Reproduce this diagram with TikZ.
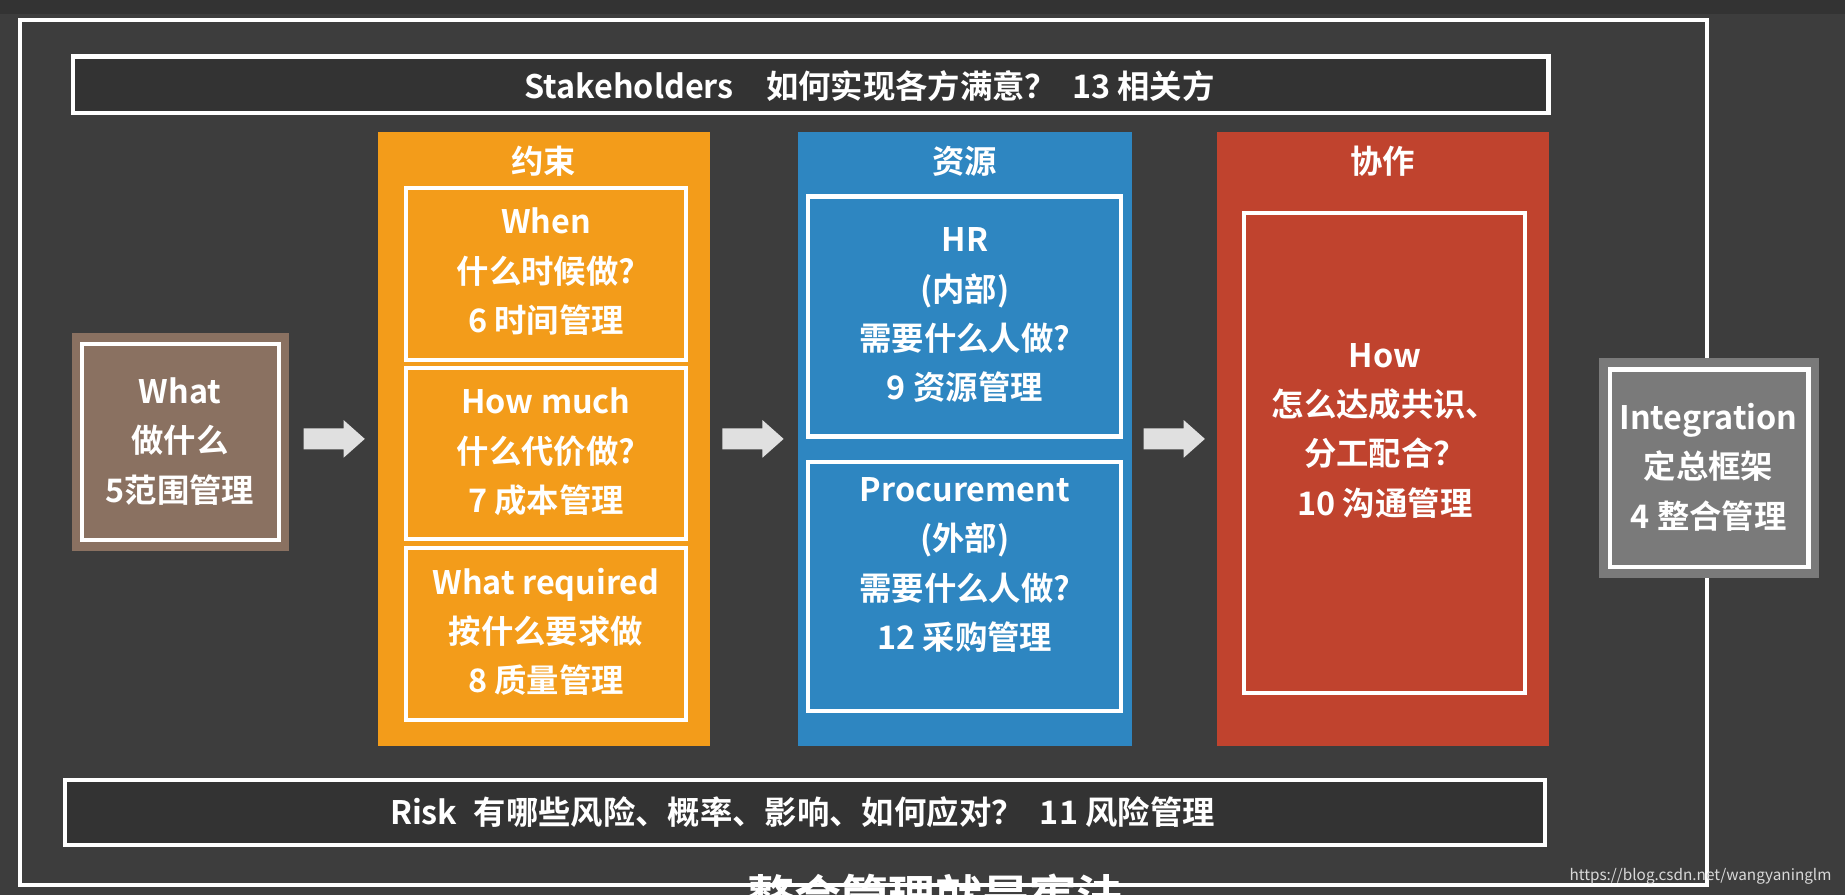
\documentclass[tikz,border=0pt]{standalone}
\usepackage{fontspec}
\setmainfont{Noto Sans CJK SC}[BoldFont={* Bold}]
\definecolor{bg}{HTML}{3D3D3D}
\definecolor{bar}{HTML}{333333}
\definecolor{brownbox}{HTML}{8A7161}
\definecolor{orng}{HTML}{F39C1A}
\definecolor{blu}{HTML}{2E86C1}
\definecolor{redc}{HTML}{C0432E}
\definecolor{grybox}{HTML}{7A7A7A}
\begin{document}
\begin{tikzpicture}[x=1pt,y=-1pt,
  wframe/.style={draw=white,line width=3.5pt},
  txt/.style={text=white,font=\bfseries\fontsize{27.5}{42}\selectfont,align=center},
  barr/.pic={\fill[white!88!black] (-26,-9) -- (8,-9) -- (8,-16) -- (26,0) -- (8,16) -- (8,9) -- (-26,9) -- cycle;}]
\useasboundingbox (0,0) rectangle (1568,761);
\clip (0,0) rectangle (1568,761);
\fill[bg] (0,0) rectangle (1568,761);
\fill[black!80] (0,0) rectangle (1568,12);
\draw[wframe] (17,17) rectangle (1451,752);
% stakeholders
\draw[wframe,fill=bar] (62,48) rectangle (1316,96);
\node[txt] (sh) at (739,73) {Stakeholders\quad 如何实现各方满意？\ \ 13 相关方};
% what
\fill[brownbox] (61,283) rectangle (246,468);
\draw[wframe] (70,292) rectangle (237,459);
\node[txt] (what) at (153,375) {What\\做什么\\5范围管理};
% orange
\fill[orng] (321,112) rectangle (603,634);
\node[txt] (ys) at (462,137) {约束};
\draw[wframe] (345,160) rectangle (583,306);
\draw[wframe] (345,313) rectangle (583,458);
\draw[wframe] (345,466) rectangle (583,612);
\node[txt] (when) at (464,231) {When\\什么时候做?\\6 时间管理};
\node[txt] (much) at (464,384) {How much\\什么代价做?\\7 成本管理};
\node[txt] (req) at (464,537) {What required\\按什么要求做\\8 质量管理};
% blue
\fill[blu] (678,112) rectangle (962,634);
\node[txt] (zy) at (820,137) {资源};
\draw[wframe] (687,167) rectangle (953,371);
\draw[wframe] (687,393) rectangle (953,604);
\node[txt] (hr) at (820,268) {HR\\(内部)\\需要什么人做?\\9 资源管理};
\node[txt] (pr) at (820,480) {Procurement\\(外部)\\需要什么人做?\\12 采购管理};
% red
\fill[redc] (1034,112) rectangle (1316,634);
\node[txt] (xz) at (1175,137) {协作};
\draw[wframe] (1057,181) rectangle (1296,589);
\node[txt] (how) at (1177,366) {How\\怎么达成共识、\\分工配合？\\10 沟通管理};
% integration
\fill[grybox] (1359,304) rectangle (1546,491);
\draw[wframe] (1368,314) rectangle (1537,482);
\node[txt] (int) at (1452,397) {Integration\\定总框架\\4 整合管理};
% arrows
\pic at (284,373) {barr};
\pic at (640,373) {barr};
\pic at (998,373) {barr};
% risk
\draw[wframe,fill=bar] (55,663) rectangle (1313,718);
\node[txt] (risk) at (682,690) {Risk\enspace 有哪些风险、概率、影响、如何应对？\enspace 11 风险管理};
% subtitle
\node[text=white,font=\bfseries\fontsize{40}{44}\selectfont] (sub) at (795,762) {整合管理就是宪法};
\node[text=white!85!black,font=\fontsize{13}{15}\selectfont,anchor=east] (wm) at (1560,745) {https://blog.csdn.net/wangyaninglm};
\end{tikzpicture}
\end{document}
